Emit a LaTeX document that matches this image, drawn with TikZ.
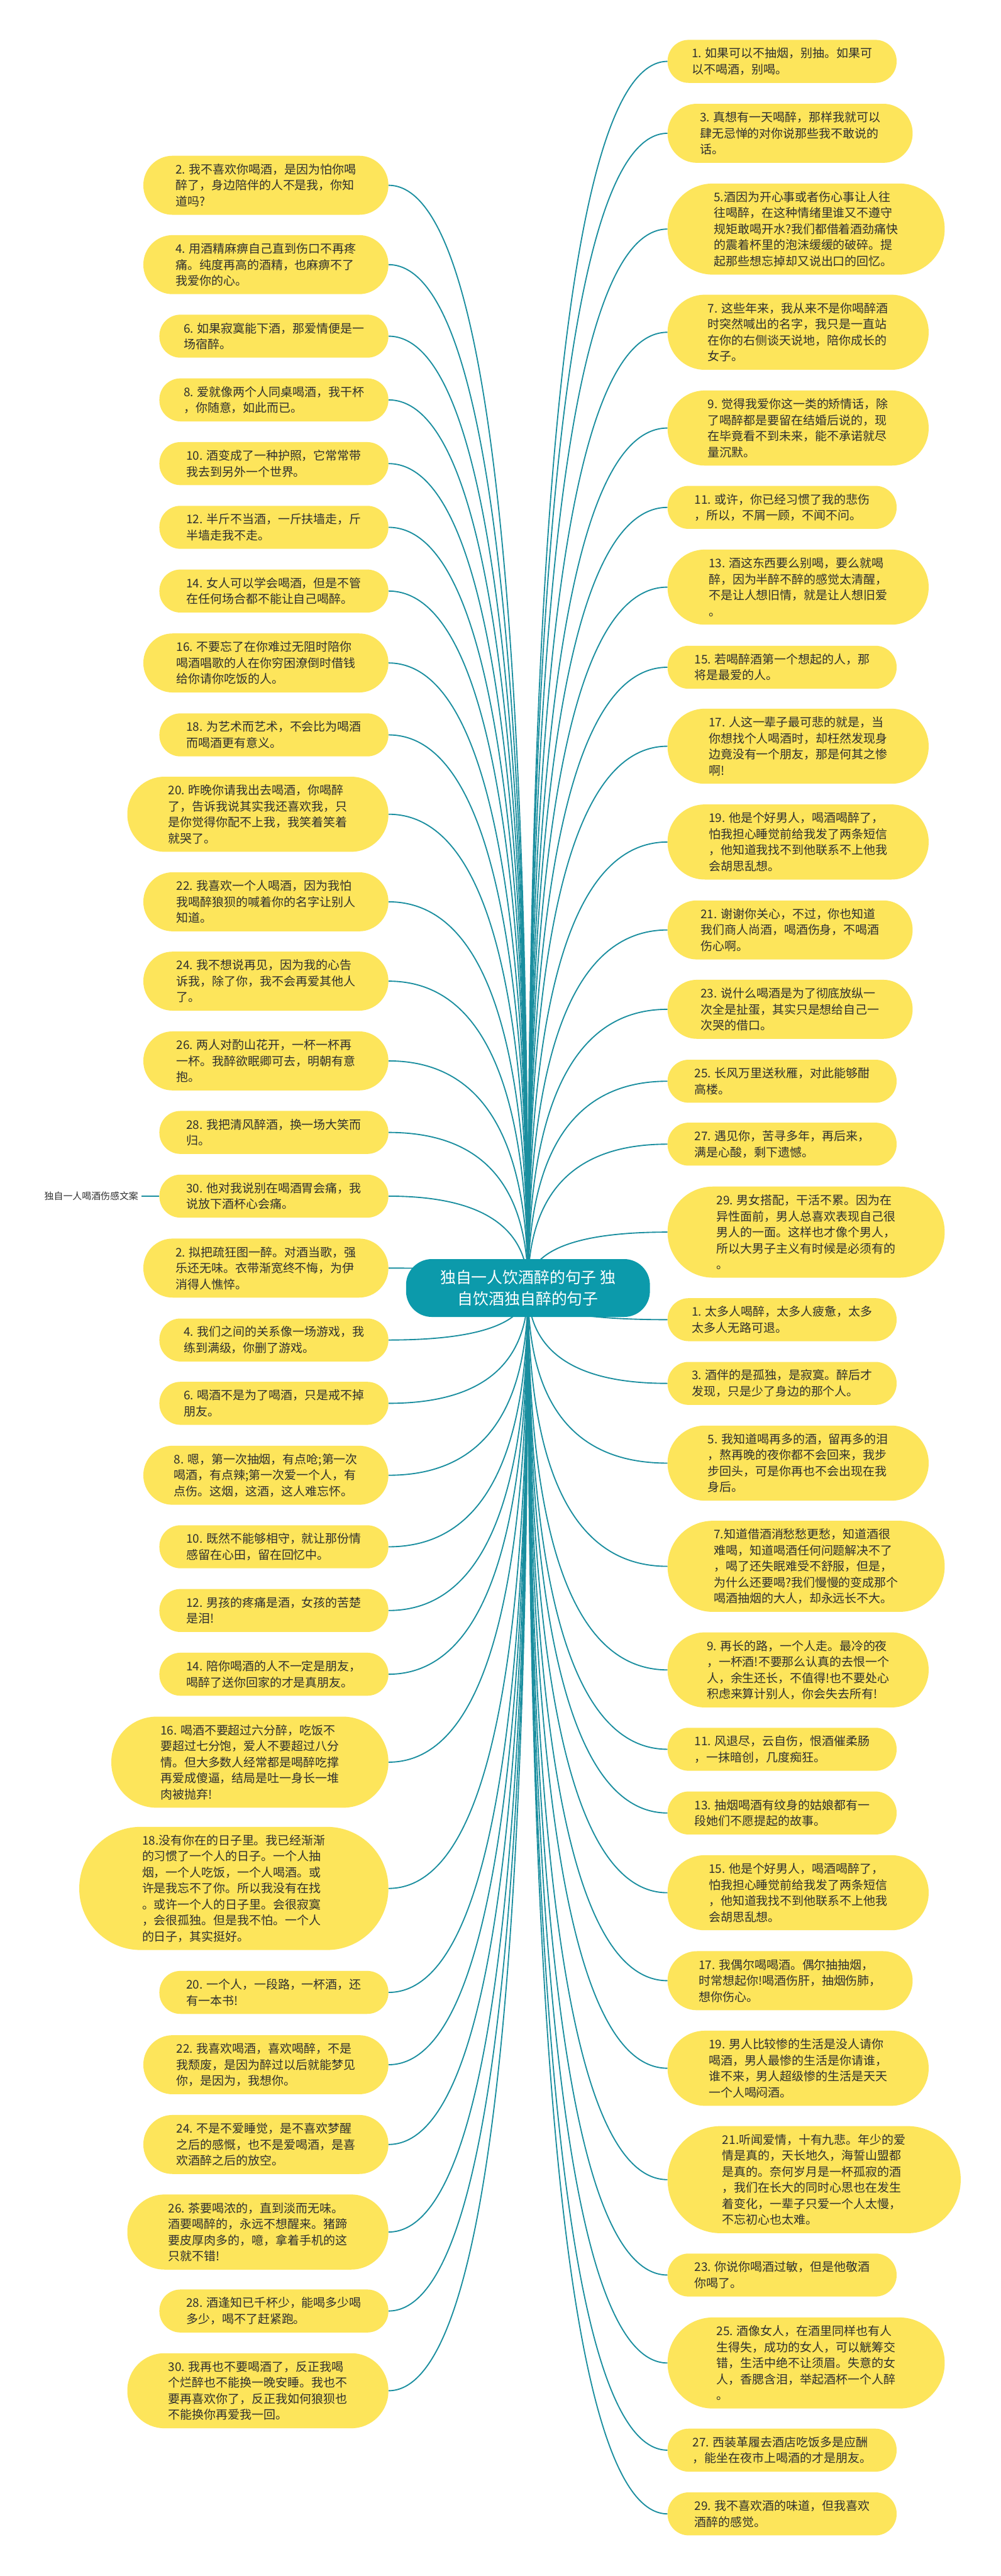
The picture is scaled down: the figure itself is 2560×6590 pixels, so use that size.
\documentclass[tikz,border=0pt]{standalone}
\usepackage{fontspec}
\setmainfont{Noto Sans CJK SC}
\usetikzlibrary{calc}
\definecolor{bubY}{HTML}{FDE55B}
\definecolor{rootC}{HTML}{0C9AAB}
\definecolor{lineC}{HTML}{1A8E9F}
\definecolor{txtC}{HTML}{2F2F2F}
\pgfdeclarelayer{bg}
\pgfsetlayers{bg,main}
\tikzset{
  bub/.style={fill=bubY, text=txtC, align=left, inner sep=0pt, font=\fontsize{30.5}{41}\selectfont},
  btwo/.style={bub, minimum height=110pt, minimum width=586pt, rounded corners=54pt},
  bthree/.style={bub, minimum height=151pt, minimum width=627pt, rounded corners=75pt},
  bfour/.style={bub, minimum height=192pt, minimum width=668pt, rounded corners=95pt},
  bfive/.style={bub, minimum height=233pt, minimum width=709pt, rounded corners=116pt},
  bsix/.style={bub, minimum height=274pt, minimum width=750pt, rounded corners=136pt},
  bseven/.style={bub, minimum height=315pt, minimum width=791pt, rounded corners=157pt},
  lft/.style={anchor=east},
  rgt/.style={anchor=west},
  conn/.style={draw=lineC, line width=3pt},
  rootbox/.style={fill=rootC, text=white, align=center, inner sep=0pt, minimum width=624pt, minimum height=148pt, rounded corners=66pt, font=\fontsize{40}{55}\selectfont},
  labtxt/.style={text=txtC, inner xsep=8pt, inner ysep=2pt, font=\fontsize{24}{30}\selectfont}
}
\begin{document}
\begin{tikzpicture}[x=1pt,y=-1pt]
\useasboundingbox (0,0) rectangle (2560,6590);

\node[rootbox] (root) at (1351,3295) {独自一人饮酒醉的句子 独\\自饮酒独自醉的句子};

% left column
\node[bthree,lft] (L1) at (994,474) {2. 我不喜欢你喝酒，是因为怕你喝\\醉了，身边陪伴的人不是我，你知\\道吗?};
\node[bthree,lft] (L2) at (994,677) {4. 用酒精麻痹自己直到伤口不再疼\\痛。纯度再高的酒精，也麻痹不了\\我爱你的心。};
\node[btwo,lft] (L3) at (994,860) {6. 如果寂寞能下酒，那爱情便是一\\场宿醉。};
\node[btwo,lft] (L4) at (994,1023) {8. 爱就像两个人同桌喝酒，我干杯\\，你随意，如此而已。};
\node[btwo,lft] (L5) at (994,1186) {10. 酒变成了一种护照，它常常带\\我去到另外一个世界。};
\node[btwo,lft] (L6) at (994,1349) {12. 半斤不当酒，一斤扶墙走，斤\\半墙走我不走。};
\node[btwo,lft] (L7) at (994,1512) {14. 女人可以学会喝酒，但是不管\\在任何场合都不能让自己喝醉。};
\node[bthree,lft] (L8) at (994,1696) {16. 不要忘了在你难过无阻时陪你\\喝酒唱歌的人在你穷困潦倒时借钱\\给你请你吃饭的人。};
\node[btwo,lft] (L9) at (994,1880) {18. 为艺术而艺术，不会比为喝酒\\而喝酒更有意义。};
\node[bfour,lft] (L10) at (994,2083) {20. 昨晚你请我出去喝酒，你喝醉\\了，告诉我说其实我还喜欢我，只\\是你觉得你配不上我，我笑着笑着\\就哭了。};
\node[bthree,lft] (L11) at (994,2307) {22. 我喜欢一个人喝酒，因为我怕\\我喝醉狼狈的喊着你的名字让别人\\知道。};
\node[bthree,lft] (L12) at (994,2510) {24. 我不想说再见，因为我的心告\\诉我，除了你，我不会再爱其他人\\了。};
\node[bthree,lft] (L13) at (994,2714) {26. 两人对酌山花开，一杯一杯再\\一杯。我醉欲眠卿可去，明朝有意\\抱。};
\node[btwo,lft] (L14) at (994,2897) {28. 我把清风醉酒，换一场大笑而\\归。};
\node[btwo,lft] (L15) at (994,3060) {30. 他对我说别在喝酒胃会痛，我\\说放下酒杯心会痛。};
\node[bthree,lft] (L16) at (994,3244) {2. 拟把疏狂图一醉。对酒当歌，强\\乐还无味。衣带渐宽终不悔，为伊\\消得人憔悴。};
\node[btwo,lft] (L17) at (994,3428) {4. 我们之间的关系像一场游戏，我\\练到满级，你删了游戏。};
\node[btwo,lft] (L18) at (994,3590) {6. 喝酒不是为了喝酒，只是戒不掉\\朋友。};
\node[bthree,lft] (L19) at (994,3774) {8. 嗯，第一次抽烟，有点呛;第一次\\喝酒，有点辣;第一次爱一个人，有\\点伤。这烟，这酒，这人难忘怀。};
\node[btwo,lft] (L20) at (994,3957) {10. 既然不能够相守，就让那份情\\感留在心田，留在回忆中。};
\node[btwo,lft] (L21) at (994,4120) {12. 男孩的疼痛是酒，女孩的苦楚\\是泪!};
\node[btwo,lft] (L22) at (994,4283) {14. 陪你喝酒的人不一定是朋友，\\喝醉了送你回家的才是真朋友。};
\node[bfive,lft] (L23) at (994,4508) {16. 喝酒不要超过六分醉，吃饭不\\要超过七分饱，爱人不要超过八分\\情。但大多数人经常都是喝醉吃撑\\再爱成傻逼，结局是吐一身长一堆\\肉被抛弃!};
\node[bseven,lft] (L24) at (994,4831) {18.没有你在的日子里。我已经渐渐\\的习惯了一个人的日子。一个人抽\\烟，一个人吃饭，一个人喝酒。或\\许是我忘不了你。所以我没有在找\\。或许一个人的日子里。会很寂寞\\，会很孤独。但是我不怕。一个人\\的日子，其实挺好。};
\node[btwo,lft] (L25) at (994,5097) {20. 一个人，一段路，一杯酒，还\\有一本书!};
\node[bthree,lft] (L26) at (994,5282) {22. 我喜欢喝酒，喜欢喝醉，不是\\我颓废，是因为醉过以后就能梦见\\你，是因为，我想你。};
\node[bthree,lft] (L27) at (994,5486) {24. 不是不爱睡觉，是不喜欢梦醒\\之后的感慨，也不是爱喝酒，是喜\\欢酒醉之后的放空。};
\node[bfour,lft] (L28) at (994,5710) {26. 茶要喝浓的，直到淡而无味。\\酒要喝醉的，永远不想醒来。猪蹄\\要皮厚肉多的，噫，拿着手机的这\\只就不错!};
\node[btwo,lft] (L29) at (994,5912) {28. 酒逢知已千杯少，能喝多少喝\\多少，喝不了赶紧跑。};
\node[bfour,lft] (L30) at (994,6116) {30. 我再也不要喝酒了，反正我喝\\个烂醉也不能换一晚安睡。我也不\\要再喜欢你了，反正我如何狼狈也\\不能换你再爱我一回。};

% right column
\node[btwo,rgt] (R1) at (1708,157) {1. 如果可以不抽烟，别抽。如果可\\以不喝酒，别喝。};
\node[bthree,rgt] (R2) at (1708,341) {3. 真想有一天喝醉，那样我就可以\\肆无忌惮的对你说那些我不敢说的\\话。};
\node[bfive,rgt] (R3) at (1708,586) {5.酒因为开心事或者伤心事让人往\\往喝醉，在这种情绪里谁又不遵守\\规矩敢喝开水?我们都借着酒劲痛快\\的震着杯里的泡沫缓缓的破碎。提\\起那些想忘掉却又说出口的回忆。};
\node[bfour,rgt] (R4) at (1708,850) {7. 这些年来，我从来不是你喝醉酒\\时突然喊出的名字，我只是一直站\\在你的右侧谈天说地，陪你成长的\\女子。};
\node[bfour,rgt] (R5) at (1708,1095) {9. 觉得我爱你这一类的矫情话，除\\了喝醉都是要留在结婚后说的，现\\在毕竟看不到未来，能不承诺就尽\\量沉默。};
\node[btwo,rgt] (R6) at (1708,1298) {11. 或许，你已经习惯了我的悲伤\\，所以，不屑一顾，不闻不问。};
\node[bfour,rgt] (R7) at (1708,1502) {13. 酒这东西要么别喝，要么就喝\\醉，因为半醉不醉的感觉太清醒，\\不是让人想旧情，就是让人想旧爱\\。};
\node[btwo,rgt] (R8) at (1708,1707) {15. 若喝醉酒第一个想起的人，那\\将是最爱的人。};
\node[bfour,rgt] (R9) at (1708,1909) {17. 人这一辈子最可悲的就是，当\\你想找个人喝酒时，却枉然发现身\\边竟没有一个朋友，那是何其之惨\\啊!};
\node[bfour,rgt] (R10) at (1708,2154) {19. 他是个好男人，喝酒喝醉了，\\怕我担心睡觉前给我发了两条短信\\，他知道我找不到他联系不上他我\\会胡思乱想。};
\node[bthree,rgt] (R11) at (1708,2379) {21. 谢谢你关心，不过，你也知道\\我们商人尚酒，喝酒伤身，不喝酒\\伤心啊。};
\node[bthree,rgt] (R12) at (1708,2582) {23. 说什么喝酒是为了彻底放纵一\\次全是扯蛋，其实只是想给自己一\\次哭的借口。};
\node[btwo,rgt] (R13) at (1708,2766) {25. 长风万里送秋雁，对此能够酣\\高楼。};
\node[btwo,rgt] (R14) at (1708,2927) {27. 遇见你，苦寻多年，再后来，\\满是心酸，剩下遗憾。};
\node[bfive,rgt] (R15) at (1708,3152) {29. 男女搭配，干活不累。因为在\\异性面前，男人总喜欢表现自己很\\男人的一面。这样也才像个男人，\\所以大男子主义有时候是必须有的\\。};
\node[btwo,rgt] (R16) at (1708,3376) {1. 太多人喝醉，太多人疲惫，太多\\太多人无路可退。};
\node[btwo,rgt] (R17) at (1708,3539) {3. 酒伴的是孤独，是寂寞。醉后才\\发现，只是少了身边的那个人。};
\node[bfour,rgt] (R18) at (1708,3743) {5. 我知道喝再多的酒，留再多的泪\\，熬再晚的夜你都不会回来，我步\\步回头，可是你再也不会出现在我\\身后。};
\node[bfive,rgt] (R19) at (1708,4007) {7.知道借酒消愁愁更愁，知道酒很\\难喝，知道喝酒任何问题解决不了\\，喝了还失眠难受不舒服，但是，\\为什么还要喝?我们慢慢的变成那个\\喝酒抽烟的大人，却永远长不大。};
\node[bfour,rgt] (R20) at (1708,4272) {9. 再长的路，一个人走。最冷的夜\\，一杯酒!不要那么认真的去恨一个\\人，余生还长，不值得!也不要处心\\积虑来算计别人，你会失去所有!};
\node[btwo,rgt] (R21) at (1708,4475) {11. 风退尽，云自伤，恨酒催柔肠\\，一抹暗创，几度痴狂。};
\node[btwo,rgt] (R22) at (1708,4638) {13. 抽烟喝酒有纹身的姑娘都有一\\段她们不愿提起的故事。};
\node[bfour,rgt] (R23) at (1708,4842) {15. 他是个好男人，喝酒喝醉了，\\怕我担心睡觉前给我发了两条短信\\，他知道我找不到他联系不上他我\\会胡思乱想。};
\node[bthree,rgt] (R24) at (1708,5067) {17. 我偶尔喝喝酒。偶尔抽抽烟，\\时常想起你!喝酒伤肝，抽烟伤肺，\\想你伤心。};
\node[bfour,rgt] (R25) at (1708,5291) {19. 男人比较惨的生活是没人请你\\喝酒，男人最惨的生活是你请谁，\\谁不来，男人超级惨的生活是天天\\一个人喝闷酒。};
\node[bsix,rgt] (R26) at (1708,5576) {21.听闻爱情，十有九悲。年少的爱\\情是真的，天长地久，海誓山盟都\\是真的。奈何岁月是一杯孤寂的酒\\，我们在长大的同时心思也在发生\\着变化，一辈子只爱一个人太慢，\\不忘初心也太难。};
\node[btwo,rgt] (R27) at (1708,5820) {23. 你说你喝酒过敏，但是他敬酒\\你喝了。};
\node[bfive,rgt] (R28) at (1708,6045) {25. 酒像女人，在酒里同样也有人\\生得失，成功的女人，可以觥筹交\\错，生活中绝不让须眉。失意的女\\人，香腮含泪，举起酒杯一个人醉\\。};
\node[btwo,rgt] (R29) at (1708,6268) {27. 西装革履去酒店吃饭多是应酬\\，能坐在夜市上喝酒的才是朋友。};
\node[btwo,rgt] (R30) at (1708,6431) {29. 我不喜欢酒的味道，但我喜欢\\酒醉的感觉。};

\node[labtxt,anchor=east] (lab) at (362,3060) {独自一人喝酒伤感文案};

\begin{pgfonlayer}{bg}
\fill[white] (0,0) rectangle (2560,6590);
\foreach \i in {1,...,30}{
  \coordinate (kl) at (root.center |- L\i.east);
  \draw[conn] (L\i.east) .. controls ($(L\i.east)!0.6667!(kl)$) and ($(root.center)!0.6667!(kl)$) .. (root.center);
  \coordinate (kr) at (root.center |- R\i.west);
  \draw[conn] (R\i.west) .. controls ($(R\i.west)!0.6667!(kr)$) and ($(root.center)!0.6667!(kr)$) .. (root.center);
}
\draw[conn] (lab.east) -- (L15.west);
\end{pgfonlayer}
\end{tikzpicture}
\end{document}
